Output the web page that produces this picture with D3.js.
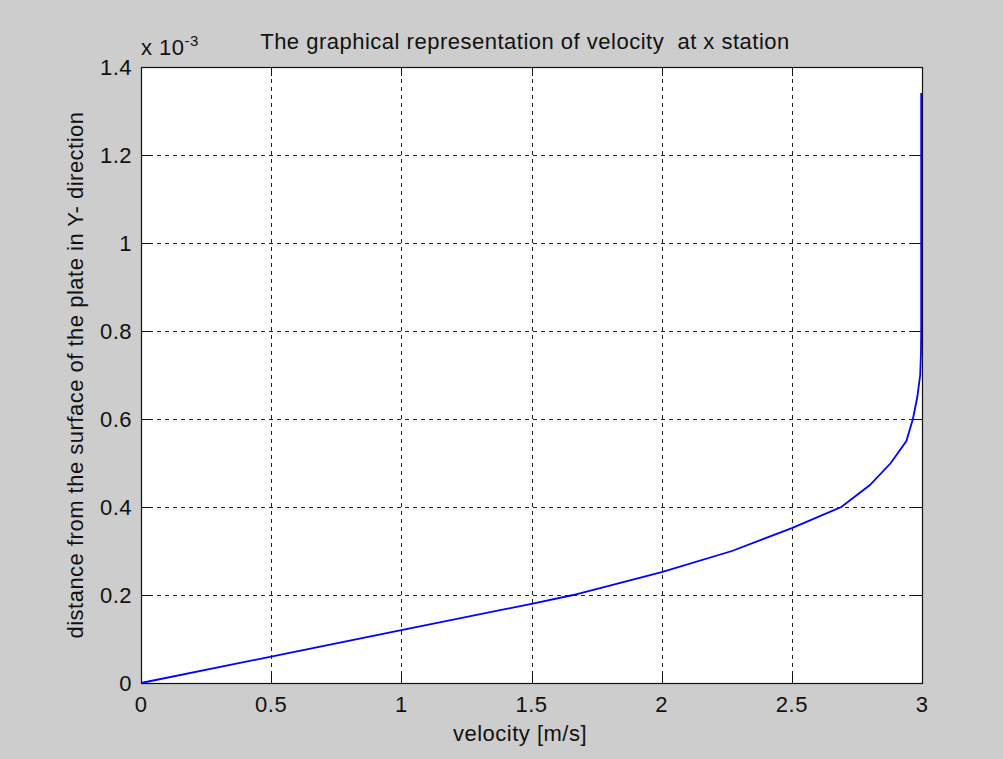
<!DOCTYPE html>
<html>
<head>
<meta charset="utf-8">
<script src="https://cdn.jsdelivr.net/npm/d3@7"></script>
<style>
  body { margin: 0; background: #cdcdcd; }
  text { font-family: "Liberation Sans", Arial, sans-serif; fill: #111; }
</style>
</head>
<body>
<div id="chart"></div>
<script>
// velocity profile (y in metres)
var velocity = [0, 0.5, 1.0, 1.5, 1.66, 2.0, 2.27, 2.5, 2.69, 2.8, 2.88, 2.94, 2.965, 2.982, 2.993, 2.996, 2.997, 2.997]
var distance = [0, 0.06e-3, 0.12e-3, 0.18e-3, 0.2e-3, 0.252e-3, 0.3e-3, 0.352e-3, 0.4e-3, 0.45e-3, 0.5e-3,
                0.55e-3, 0.6e-3, 0.65e-3, 0.7e-3, 0.75e-3, 0.8e-3, 1.341e-3]
var xTicks = [0, 0.5, 1, 1.5, 2, 2.5, 3]
var yTicks = [0, 0.2e-3, 0.4e-3, 0.6e-3, 0.8e-3, 1.0e-3, 1.2e-3, 1.4e-3]
var yTickLabels = ["0", "0.2", "0.4", "0.6", "0.8", "1", "1.2", "1.4"]

var width = 1003,
    height = 759
// plot box (window.top is read-only, so use own names)
var pLeft = 141, pRight = 922, pTop = 67, pBottom = 683

var svg = d3.select("#chart")
    .append("svg")
    .attr("width", width)
    .attr("height", height)

svg.append("rect")
    .attr("width", width)
    .attr("height", height)
    .attr("fill", "#cdcdcd")

var x = d3.scaleLinear().domain([0, 3]).range([pLeft, pRight])
var y = d3.scaleLinear().domain([0, 1.4e-3]).range([pBottom, pTop])

// white plot area
svg.append("rect")
    .attr("x", pLeft).attr("y", pTop)
    .attr("width", pRight - pLeft).attr("height", pBottom - pTop)
    .attr("fill", "#fff")

// grid, dashed
var grid = svg.append("g")
    .attr("stroke", "#222")
    .attr("stroke-width", 1)
    .attr("stroke-dasharray", "4,4")
grid.selectAll(".gx")
    .data(xTicks.slice(1, -1))
    .enter().append("line")
    .attr("x1", d => Math.round(x(d)) + 0.5).attr("x2", d => Math.round(x(d)) + 0.5)
    .attr("y1", pBottom).attr("y2", pTop)
grid.selectAll(".gy")
    .data(yTicks.slice(1, -1))
    .enter().append("line")
    .attr("y1", d => Math.round(y(d)) + 0.5).attr("y2", d => Math.round(y(d)) + 0.5)
    .attr("x1", pLeft).attr("x2", pRight)

// inner ticks on all four sides
var tickLen = 9
var ticks = svg.append("g").attr("stroke", "#111").attr("stroke-width", 1)
xTicks.forEach(function (d) {
    var px = Math.round(x(d)) + 0.5
    ticks.append("line").attr("x1", px).attr("x2", px).attr("y1", pBottom).attr("y2", pBottom - tickLen)
    ticks.append("line").attr("x1", px).attr("x2", px).attr("y1", pTop).attr("y2", pTop + tickLen)
})
yTicks.forEach(function (d) {
    var py = Math.round(y(d)) + 0.5
    ticks.append("line").attr("y1", py).attr("y2", py).attr("x1", pLeft).attr("x2", pLeft + tickLen)
    ticks.append("line").attr("y1", py).attr("y2", py).attr("x1", pRight).attr("x2", pRight - tickLen)
})

// axes box
svg.append("rect")
    .attr("x", pLeft + 0.5).attr("y", pTop + 0.5)
    .attr("width", pRight - pLeft).attr("height", pBottom - pTop)
    .attr("fill", "none")
    .attr("stroke", "#111")
    .attr("stroke-width", 1.2)

// the curve, drawn over the box like the original
var line = d3.line()
    .x(function (d, i) { return x(velocity[i]) })
    .y(function (d, i) { return y(distance[i]) })
svg.append("path")
    .datum(velocity)
    .attr("d", line)
    .attr("fill", "none")
    .attr("stroke", "#0000ff")
    .attr("stroke-width", 1.8)

var fs = "22px", ls = "0.5px"

// tick labels
svg.selectAll(".xl")
    .data(xTicks)
    .enter().append("text")
    .attr("x", d => x(d))
    .attr("y", 712)
    .attr("text-anchor", "middle")
    .style("font-size", fs).style("letter-spacing", ls)
    .text(d => String(d))
svg.selectAll(".yl")
    .data(yTicks)
    .enter().append("text")
    .attr("x", 132)
    .attr("y", d => y(d) + 8)
    .attr("text-anchor", "end")
    .style("font-size", fs).style("letter-spacing", ls)
    .text((d, i) => yTickLabels[i])

// exponent above the y axis
var ex = svg.append("text")
    .attr("x", 141).attr("y", 55)
    .style("font-size", fs).style("letter-spacing", ls)
ex.append("tspan").text("x 10")
ex.append("tspan").attr("dy", -9).style("font-size", "15px").text("-3")

// title and axis labels
svg.append("text")
    .attr("x", 525).attr("y", 49)
    .attr("text-anchor", "middle")
    .style("font-size", fs).style("letter-spacing", ls)
    .style("white-space", "pre")
    .text("The graphical representation of velocity  at x station")
svg.append("text")
    .attr("x", 520).attr("y", 741)
    .attr("text-anchor", "middle")
    .style("font-size", fs).style("letter-spacing", ls)
    .text("velocity [m/s]")
svg.append("text")
    .attr("transform", "translate(83," + ((pTop + pBottom) / 2) + ") rotate(-90)")
    .attr("text-anchor", "middle")
    .style("font-size", fs).style("letter-spacing", ls)
    .text("distance from the surface of the plate in Y- direction")
</script>
</body>
</html>
